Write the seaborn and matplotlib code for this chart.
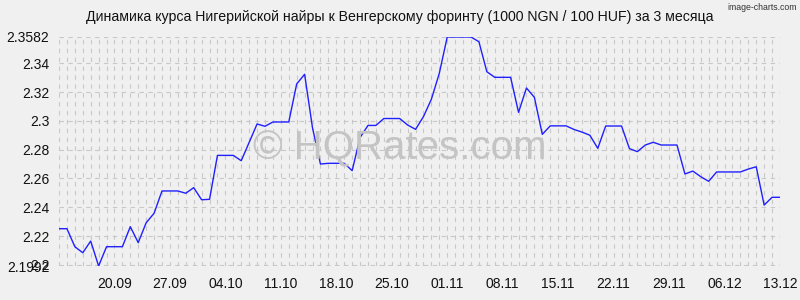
import matplotlib
matplotlib.use("Agg")
import numpy as np
import pandas as pd
import seaborn as sns
import matplotlib.pyplot as plt
import matplotlib.dates as mdates
import matplotlib.ticker as mticker

# ---- data ----
start_date = "2024-09-13"
end_date = "2024-12-13"
rates = [
    2.2251, 2.2251, 2.2126, 2.2084, 2.2165, 2.1992, 2.2126, 2.2126, 2.2126, 2.2265,
    2.2154, 2.2292, 2.2358, 2.2513, 2.2513, 2.2513, 2.2497, 2.2536, 2.2452, 2.2455,
    2.2760, 2.2760, 2.2760, 2.2723, 2.2850, 2.2978, 2.2962, 2.2992, 2.2992, 2.2992,
    2.3256, 2.3323, 2.2950, 2.2700, 2.2705, 2.2705, 2.2705, 2.2654, 2.2884, 2.2968,
    2.2968, 2.3016, 2.3016, 2.3016, 2.2971, 2.2941, 2.3029, 2.3150, 2.3330, 2.3582,
    2.3582, 2.3582, 2.3582, 2.3549, 2.3341, 2.3302, 2.3302, 2.3302, 2.3059, 2.3228,
    2.3163, 2.2906, 2.2965, 2.2965, 2.2965, 2.2940, 2.2922, 2.2900, 2.2809, 2.2964,
    2.2964, 2.2964, 2.2807, 2.2786, 2.2832, 2.2851, 2.2832, 2.2832, 2.2832, 2.2631,
    2.2651, 2.2612, 2.2580, 2.2645, 2.2645, 2.2645, 2.2645, 2.2665, 2.2681, 2.2415,
    2.2469, 2.2469,
]
x_tick_dates = ["2024-09-20", "2024-09-27", "2024-10-04", "2024-10-11", "2024-10-18",
                "2024-10-25", "2024-11-01", "2024-11-08", "2024-11-15", "2024-11-22",
                "2024-11-29", "2024-12-06", "2024-12-13"]
x_tick_labels = ["20.09", "27.09", "04.10", "11.10", "18.10", "25.10", "01.11",
                 "08.11", "15.11", "22.11", "29.11", "06.12", "13.12"]
y_ticks = [2.1992, 2.2, 2.22, 2.24, 2.26, 2.28, 2.3, 2.32, 2.34, 2.3582]
y_tick_labels = ["2.1992", "2.2", "2.22", "2.24", "2.26", "2.28", "2.3", "2.32", "2.34", "2.3582"]
title = "Динамика курса Нигерийской найры к Венгерскому форинту (1000 NGN / 100 HUF) за 3 месяца"
watermark = "© HQRates.com"
credit = "image-charts.com"

dates = pd.date_range(start_date, end_date, freq="D")
df = pd.DataFrame({"date": dates, "rate": rates})

BG = "#f0f0f0"
GRID = "#c8c8c8"
sns.set_style("white", {"axes.facecolor": BG, "figure.facecolor": BG})
plt.rcParams["font.family"] = ["Liberation Sans", "DejaVu Sans"]

fig = plt.figure(figsize=(8, 3), dpi=100)
ax = fig.add_axes([59 / 800, 34 / 300, 721 / 800, 229 / 300])
ax.set_facecolor(BG)

sns.lineplot(data=df, x="date", y="rate", ax=ax, color="#2020ff", linewidth=1.0, zorder=3)

ax.set_xlim(dates[0], dates[-1])
ax.set_ylim(y_ticks[0], y_ticks[-1])

ax.xaxis.set_major_locator(mticker.FixedLocator(mdates.date2num(pd.to_datetime(x_tick_dates))))
ax.xaxis.set_major_formatter(mticker.FixedFormatter(x_tick_labels))
ax.xaxis.set_minor_locator(mdates.DayLocator())
ax.set_yticks(y_ticks)
ax.set_yticklabels(y_tick_labels)

dash = (0, (4, 4))
ax.grid(which="both", axis="x", color=GRID, linestyle=dash, linewidth=0.8, zorder=1)
ax.grid(which="major", axis="y", color=GRID, linestyle=dash, linewidth=0.8, zorder=1)

for s in ax.spines.values():
    s.set_visible(False)

ax.tick_params(axis="x", which="both", direction="out", length=6.5, width=0.6,
               color="#d0d0d0", labelsize=10, pad=1.5, labelcolor="#111111")
ax.tick_params(axis="y", which="major", direction="out", length=6.5, width=0.6,
               color="#d0d0d0", labelsize=10, pad=0.5, labelcolor="#111111")
ax.set_xlabel("")
ax.set_ylabel("")

fig.text(0.5, 1 - 148 / 300, watermark, ha="center", va="center",
         fontsize=29, color="#c4c4c4", zorder=2)

fig.text(0.5, 1 - 17 / 300, title, ha="center", va="center", fontsize=10.2, color="#111111")
fig.text(797 / 800, 1 - 8 / 300, credit, ha="right", va="center", fontsize=6.3,
         color="#333333", family=["DejaVu Sans Condensed", "Liberation Sans"],
         fontstretch="condensed")

fig.savefig("out.png", dpi=100, facecolor=BG)
